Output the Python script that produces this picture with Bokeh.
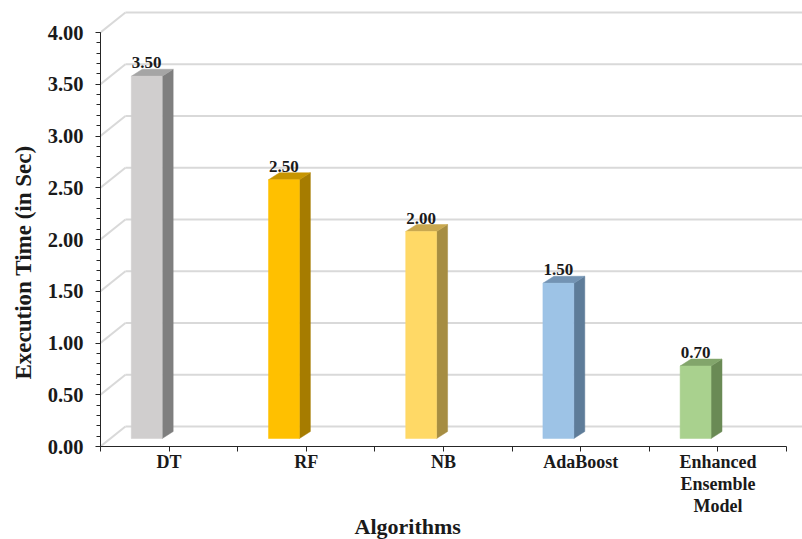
from bokeh.plotting import figure
from bokeh.models import FixedTicker, Range1d, Title, ColumnDataSource
from bokeh.core.properties import value
from bokeh.embed import file_html
from bokeh.resources import INLINE

# ---- data ----
categories = ["DT", "RF", "NB", "AdaBoost", "Enhanced\nEnsemble\nModel"]
exec_time = [3.50, 2.50, 2.00, 1.50, 0.70]
value_labels = ["3.50", "2.50", "2.00", "1.50", "0.70"]
y_ticks = [0.0, 0.5, 1.0, 1.5, 2.0, 2.5, 3.0, 3.5, 4.0]
y_tick_labels = ["0.00", "0.50", "1.00", "1.50", "2.00", "2.50", "3.00", "3.50", "4.00"]
front_colors = ["#d0cece", "#ffc000", "#ffd966", "#9dc3e6", "#a9d18e"]
side_colors = ["#7f7f7f", "#a67c00", "#a68d42", "#5e7c99", "#6a8a55"]
top_colors = ["#a5a5a5", "#c79500", "#c9a84f", "#7393b3", "#82a56b"]

# ---- layout / geometry (pixel sizes converted through the scales) ----
W, H = 802, 539
LEFT, BOTTOM = 98, 93
FRAME_W = W - LEFT
FRAME_H = H - BOTTOM
X_PX = 137.6                      # px per category
Y_PX = (FRAME_H - 32) / 4.0       # px per unit (4.00 at 32 px from top)
FONT = "Liberation Serif"

x_end = FRAME_W / X_PX
y_end = FRAME_H / Y_PX

wall_dx = 25 / X_PX
wall_dy = 20 / Y_PX
bar_off = -0.163
bar_w = 31 / X_PX
bar_lift = 8 / Y_PX
depth_dx = 11 / X_PX
depth_dy = 7 / Y_PX

p = figure(width=W, height=H, output_backend="svg", toolbar_location=None,
           x_range=Range1d(0, x_end), y_range=Range1d(0, y_end),
           min_border_left=LEFT, min_border_right=0, min_border_top=0, min_border_bottom=BOTTOM)
p.xgrid.visible = False
p.ygrid.visible = False
p.outline_line_color = None
p.background_fill_color = "white"

# back-wall grid lines and floor diagonals
gx0 = [wall_dx for _ in y_ticks]
gx1 = [x_end for _ in y_ticks]
gy = [v + wall_dy for v in y_ticks]
p.segment(x0=gx0, y0=gy, x1=gx1, y1=gy, line_color="#d9d9d9", line_width=2)
p.segment(x0=[0 for _ in y_ticks], y0=y_ticks, x1=gx0, y1=gy, line_color="#d9d9d9", line_width=2)

# bars (front, side, top faces)
centers = [i + 0.5 for i in range(len(categories))]
xl = [c + bar_off - bar_w / 2 for c in centers]
xr = [c + bar_off + bar_w / 2 for c in centers]
yb = [bar_lift for _ in exec_time]
yt = [v + bar_lift for v in exec_time]

side_xs = [[r, r + depth_dx, r + depth_dx, r] for r in xr]
side_ys = [[b, b + depth_dy, t + depth_dy, t] for b, t in zip(yb, yt)]
top_xs = [[l, r, r + depth_dx, l + depth_dx] for l, r in zip(xl, xr)]
top_ys = [[t, t, t + depth_dy, t + depth_dy] for t in yt]

p.patches(xs=side_xs, ys=side_ys, fill_color=side_colors, line_color=side_colors, line_width=0.5)
p.patches(xs=top_xs, ys=top_ys, fill_color=top_colors, line_color=top_colors, line_width=0.5)
p.quad(left=xl, right=xr, bottom=yb, top=yt, fill_color=front_colors,
       line_color=front_colors, line_width=0.5)

# value labels
lab_src = ColumnDataSource(dict(x=[(l + r) / 2 for l, r in zip(xl, xr)],
                                y=[t + depth_dy for t in yt], text=value_labels))
p.text(x="x", y="y", text="text", source=lab_src, text_align="center",
       text_baseline="bottom", y_offset=-1, text_font=value(FONT),
       text_font_style="bold", text_font_size="17px", text_color="#1a1a1a")

# axes
ya = p.yaxis[0]
ya.ticker = FixedTicker(ticks=y_ticks, minor_ticks=[i / 10 for i in range(41)])
ya.major_label_overrides = {t: s for t, s in zip(y_ticks, y_tick_labels)}
ya.bounds = (0, 4)
ya.major_label_text_font = FONT
ya.major_label_text_font_style = "bold"
ya.major_label_text_font_size = "20.5px"
ya.major_label_text_color = "#1a1a1a"
ya.major_label_standoff = 12
ya.major_tick_out = 5
ya.major_tick_in = 0
ya.minor_tick_out = 4
ya.minor_tick_in = 0
ya.axis_line_color = "#262626"
ya.major_tick_line_color = "#262626"
ya.minor_tick_line_color = "#262626"

xa = p.xaxis[0]
xa.ticker = FixedTicker(ticks=centers, minor_ticks=[float(i) for i in range(len(categories) + 1)])
xa.major_label_overrides = {c: s for c, s in zip(centers, categories)}
xa.bounds = (0, len(categories))
xa.major_label_text_font = FONT
xa.major_label_text_font_style = "bold"
xa.major_label_text_font_size = "18px"
xa.major_label_text_line_height = 1.1
xa.major_label_text_color = "#1a1a1a"
xa.major_label_standoff = 0
xa.major_tick_out = 5
xa.major_tick_in = 0
xa.minor_tick_out = 5
xa.minor_tick_in = 0
xa.axis_line_color = "#262626"
xa.major_tick_line_color = "#262626"
xa.minor_tick_line_color = "#262626"

# axis titles
xt = Title(text="Algorithms", align="left", vertical_align="top", offset=254, standoff=-9,
           text_font=FONT, text_font_style="bold", text_font_size="22px", text_color="#1a1a1a")
p.add_layout(xt, "below")
yt_title = Title(text="Execution Time  (in Sec)", align="left", offset=67, standoff=17,
                 text_font=FONT, text_font_style="bold", text_font_size="23px", text_color="#1a1a1a")
p.add_layout(yt_title, "left")

open("out.html", "w").write(file_html(p, INLINE))
